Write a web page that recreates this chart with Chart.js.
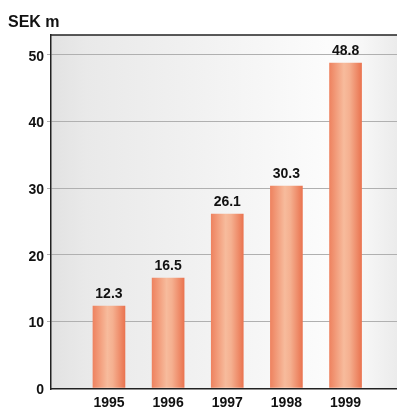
<!DOCTYPE html>
<html>
<head>
<meta charset="utf-8">
<title>Revenue, SEK m</title>
<script src="https://cdn.jsdelivr.net/npm/chart.js@4/dist/chart.umd.min.js"></script>
<style>
  html, body { margin: 0; padding: 0; background: #ffffff; }
  canvas { display: block; }
</style>
</head>
<body>
<canvas id="chart" width="397" height="407"></canvas>
<script>
// Annual figures, SEK millions
const years = ['1995', '1996', '1997', '1998', '1999'];
const revenue = [12.3, 16.5, 26.1, 30.3, 48.8];
const yTicks = [0, 10, 20, 30, 40, 50];

const FONT = '"Liberation Sans", Arial, Helvetica, sans-serif';
const INK = '#111111';

// Soft grey backdrop behind the plot, lighter towards the right
const plotBackground = {
  id: 'plotBackground',
  beforeDraw(chart) {
    const { ctx, chartArea: a } = chart;
    const g = ctx.createLinearGradient(a.left, 0, a.right, 0);
    g.addColorStop(0.00, '#e2e2e2');
    g.addColorStop(0.10, '#e9e9e9');
    g.addColorStop(0.45, '#f2f2f2');
    g.addColorStop(0.80, '#fcfcfc');
    g.addColorStop(0.90, '#f7f7f7');
    g.addColorStop(1.00, '#ebebeb');
    ctx.save();
    ctx.fillStyle = g;
    ctx.fillRect(a.left, a.top, a.right - a.left, a.bottom - a.top);
    ctx.restore();
  },
  afterDraw(chart) {
    const { ctx, chartArea: a } = chart;
    ctx.save();
    ctx.strokeStyle = '#222222';
    ctx.lineWidth = 1.5;
    ctx.beginPath();
    ctx.moveTo(a.left, a.top);
    ctx.lineTo(a.right, a.top);
    ctx.stroke();
    ctx.restore();
  }
};

// Value printed above each bar
const valueLabels = {
  id: 'valueLabels',
  afterDatasetsDraw(chart) {
    const { ctx } = chart;
    const meta = chart.getDatasetMeta(0);
    ctx.save();
    ctx.font = 'bold 14px ' + FONT;
    ctx.fillStyle = INK;
    ctx.textAlign = 'center';
    ctx.textBaseline = 'alphabetic';
    meta.data.forEach((bar, i) => {
      ctx.fillText(revenue[i].toFixed(1), bar.x, bar.y - 8);
    });
    ctx.restore();
  }
};

function barGradient(context) {
  const chart = context.chart;
  if (!chart.chartArea || context.dataIndex === undefined) return '#f2a07e';
  const cx = chart.scales.x.getPixelForValue(context.dataIndex);
  const half = 16;
  const g = chart.ctx.createLinearGradient(cx - half, 0, cx + half, 0);
  g.addColorStop(0.00, '#ee8360');
  g.addColorStop(0.45, '#f7bb9c');
  g.addColorStop(0.62, '#f5b090');
  g.addColorStop(1.00, '#ea7450');
  return g;
}

new Chart(document.getElementById('chart'), {
  type: 'bar',
  data: {
    datasets: [{
      data: years.map((_, i) => ({ x: i, y: revenue[i] })),
      backgroundColor: barGradient,
      borderWidth: 0,
      barThickness: 32
    }]
  },
  options: {
    responsive: false,
    animation: false,
    layout: { padding: { left: 8, right: 0, top: 0, bottom: 0 } },
    plugins: {
      legend: { display: false },
      tooltip: { enabled: false },
      title: {
        display: true,
        text: 'SEK m',
        align: 'start',
        color: INK,
        font: { family: FONT, size: 16, weight: 'bold', lineHeight: 1.2 },
        padding: { top: 13, bottom: 2.8 }
      }
    },
    scales: {
      x: {
        type: 'linear',
        offset: false,
        min: -0.98,
        max: 4.87,
        afterBuildTicks(scale) {
          scale.ticks = years.map((_, i) => ({ value: i }));
        },
        afterFit(scale) { scale.height = 18; },
        grid: { display: false, drawTicks: false, offset: false },
        border: { display: true, color: '#222222', width: 1.5 },
        ticks: {
          padding: 6,
          color: INK,
          font: { family: FONT, size: 14, weight: 'bold' },
          callback: (v) => years[Math.round(v)] || ''
        }
      },
      y: {
        min: -0.15,
        max: 53,
        afterBuildTicks(scale) {
          scale.ticks = yTicks.map(v => ({ value: v }));
        },
        afterFit(scale) { scale.width = 43; },
        grid: {
          color: (c) => (c.tick && c.tick.value === 0) ? 'rgba(0,0,0,0)' : '#b0b0b0',
          lineWidth: 1,
          tickLength: 4,
          drawTicks: true
        },
        border: { display: true, color: '#222222', width: 1.5 },
        ticks: {
          padding: 3,
          labelOffset: 2,
          color: INK,
          font: { family: FONT, size: 14, weight: 'bold' },
          callback: (v) => String(v)
        }
      }
    }
  },
  plugins: [plotBackground, valueLabels]
});
</script>
</body>
</html>
